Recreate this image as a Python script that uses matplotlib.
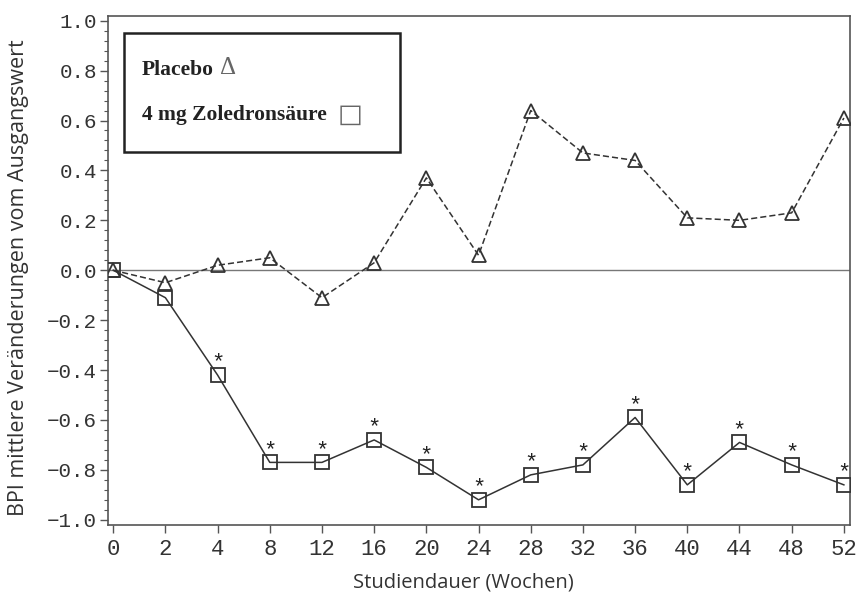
import matplotlib
matplotlib.use('Agg')
import matplotlib.pyplot as plt
from matplotlib.ticker import MultipleLocator
from matplotlib.patches import Rectangle

# Daten
wochen = ['0', '2', '4', '8', '12', '16', '20', '24', '28', '32', '36', '40', '44', '48', '52']
placebo = [0.0, -0.05, 0.02, 0.05, -0.11, 0.03, 0.37, 0.06, 0.64, 0.47, 0.44, 0.21, 0.20, 0.23, 0.61]
zoledron = [0.0, -0.11, -0.42, -0.77, -0.77, -0.68, -0.79, -0.92, -0.82, -0.78, -0.59, -0.86, -0.69, -0.78, -0.86]
signifikant = [False, False, True, True, True, True, True, True, True, True, True, True, True, True, True]

x = list(range(len(wochen)))
farbe = '#333333'

fig = plt.figure(figsize=(8.57, 5.95), dpi=100)
ax = fig.add_axes([0.126, 0.1176, 0.866, 0.856])

ax.axhline(0, color='#777777', lw=1.0, zorder=1)

ax.plot(x, placebo, color=farbe, lw=1.1, ls=(0, (4, 2)), marker='^', ms=10,
        mfc='none', mec=farbe, mew=1.3, zorder=3)
ax.plot(x, zoledron, color=farbe, lw=1.1, ls='-', marker='s', ms=9.5,
        mfc='none', mec=farbe, mew=1.3, zorder=3)

# Sternchen
for xi, yi, s in zip(x, zoledron, signifikant):
    if s:
        ax.annotate('*', (xi, yi), xytext=(0, 1), textcoords='offset points',
                    ha='center', va='bottom', fontsize=16, family='Liberation Mono',
                    color='#222222')

ax.set_xlim(-0.1, 14.12)
ax.set_ylim(-1.021, 1.02)
ax.set_xticks(x)
ax.set_xticklabels(wochen)
yt = [-1.0, -0.8, -0.6, -0.4, -0.2, 0.0, 0.2, 0.4, 0.6, 0.8, 1.0]
ax.set_yticks(yt)
ax.set_yticklabels([('%.1f' % v).replace('-', '\u2212') for v in yt])
ax.yaxis.set_minor_locator(MultipleLocator(0.04))

for lab in ax.get_xticklabels():
    lab.set_family('Liberation Mono')
    lab.set_fontsize(16)
    lab.set_color('#333333')
for lab in ax.get_yticklabels():
    lab.set_family('Liberation Mono')
    lab.set_fontsize(15)
    lab.set_color('#333333')

ax.tick_params(which='major', length=6, width=1, color='#555555')
ax.tick_params(axis='x', which='major', pad=4)
ax.tick_params(axis='y', which='major', pad=2)
ax.tick_params(which='minor', length=3, width=0.8, color='#555555')
ax.tick_params(axis='x', which='minor', bottom=False)

for sp in ax.spines.values():
    sp.set_color('#555555')
    sp.set_linewidth(1.2)

# Achsentitel
fig.text(0.541, 0.021, 'Studiendauer (Wochen)', fontsize=14.5, family='Open Sans',
         color='#333333', ha='center', va='center')
fig.text(0.022, 0.5336, 'BPI mittlere Veränderungen vom Ausgangswert', fontsize=15.5,
         family='Open Sans', color='#333333', ha='center', va='center', rotation=90)

# Legendenkasten
box = Rectangle((0.0216, 0.732), 0.372, 0.234, transform=ax.transAxes, fill=False,
                ec='#222222', lw=1.8, zorder=4)
ax.add_patch(box)
ax.text(0.046, 0.893, 'Placebo', transform=ax.transAxes, fontsize=15.5, weight='bold',
        family='Liberation Serif', va='center', color='#222222', zorder=5)
ax.text(0.151, 0.897, '\u0394', transform=ax.transAxes, fontsize=18,
        family='Liberation Serif', va='center', color='#666666', zorder=5)
ax.text(0.046, 0.805, '4 mg Zoledronsäure', transform=ax.transAxes, fontsize=15.5, weight='bold',
        family='Liberation Serif', va='center', color='#222222', zorder=5)
ax.text(0.309, 0.805, '\u25a1', transform=ax.transAxes, fontsize=19,
        family='DejaVu Sans', va='center', color='#666666', zorder=5)

plt.savefig('out.png', dpi=100)
